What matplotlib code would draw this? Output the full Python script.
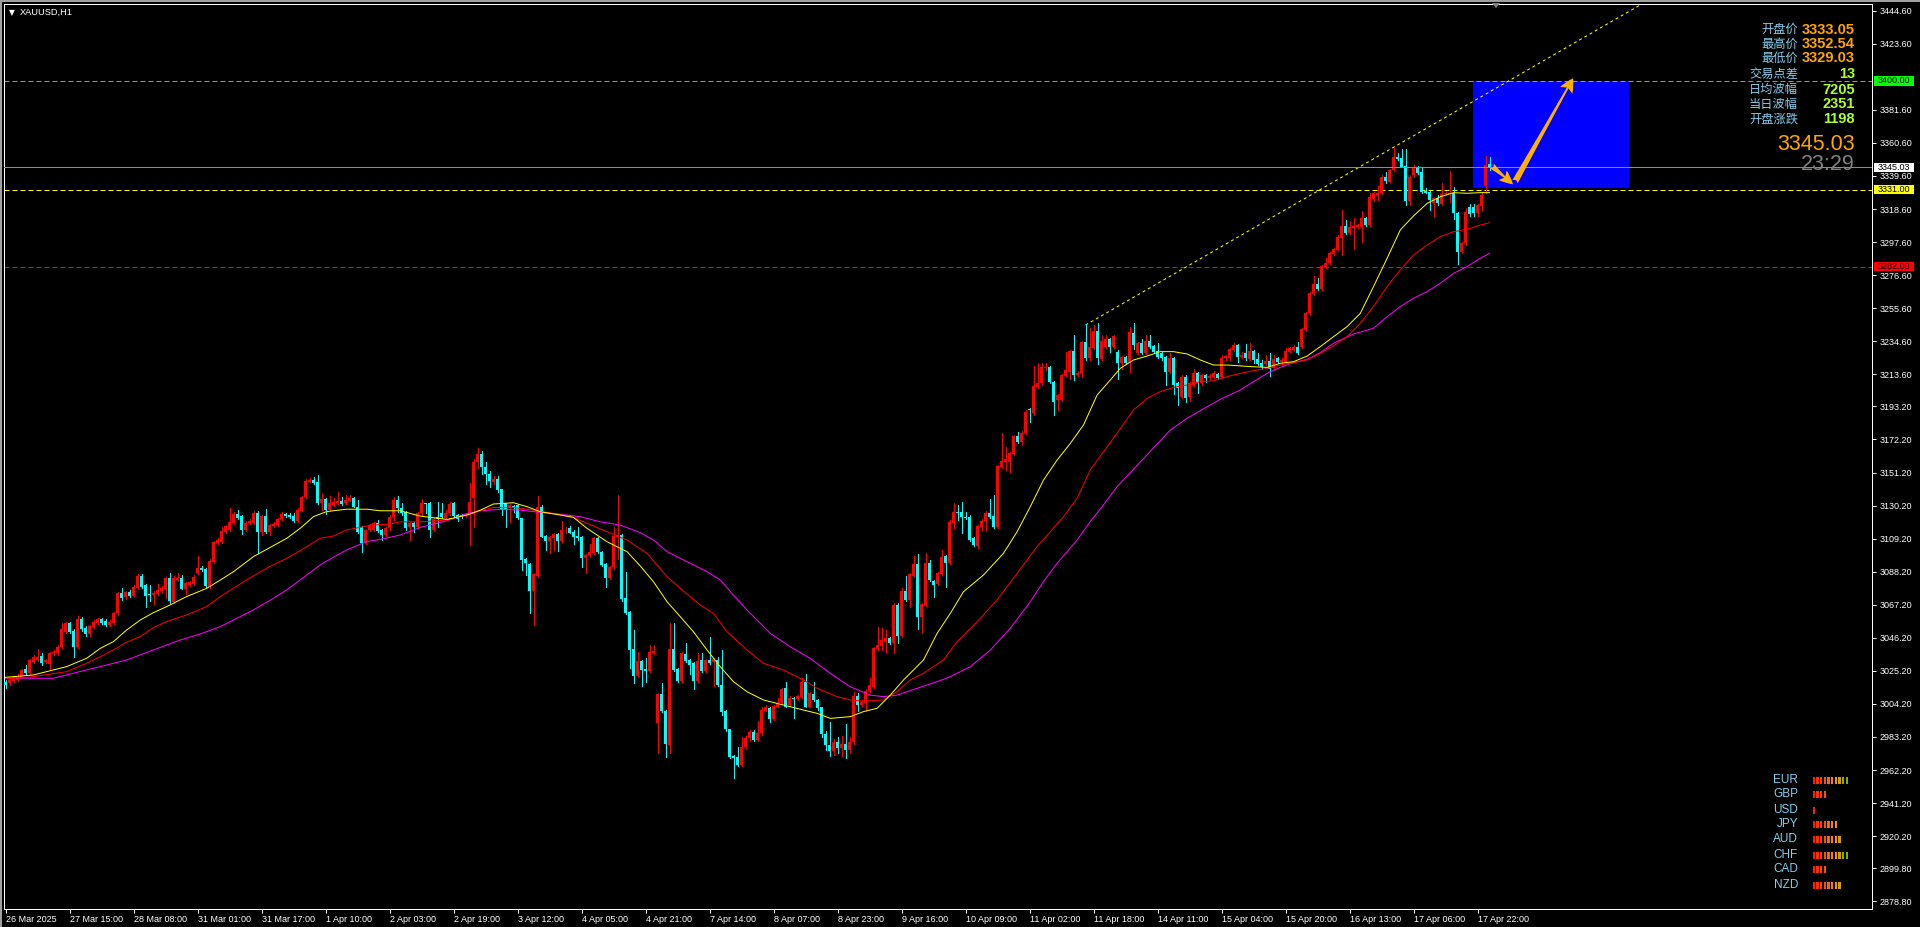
import matplotlib
matplotlib.use("Agg")
import matplotlib.pyplot as plt
import matplotlib.transforms as mtransforms
from matplotlib.patches import Rectangle, FancyArrowPatch, Polygon

plt.rcParams['font.family'] = ['Liberation Sans', 'DejaVu Sans']
CJK = ['Noto Sans CJK SC', 'DejaVu Sans']

# ---------------- data ----------------
symbol = 'XAUUSD,H1'

# hourly candles, bar 0 = 26 Mar 2025
opens = [
    3018.4, 3017.3, 3019.0, 3019.4, 3021.5, 3026.2, 3023.7, 3031.1, 3032.1, 3034.7,
    3031.1, 3029.6, 3036.4, 3036.4, 3040.2, 3050.1, 3055.4, 3050.8, 3040.6, 3058.2,
    3052.7, 3048.7, 3053.3, 3055.9, 3058.0, 3056.9, 3054.4, 3055.9, 3061.8, 3074.5,
    3071.9, 3075.5, 3073.0, 3078.1, 3085.7, 3079.8, 3073.9, 3073.4, 3074.1, 3076.2,
    3077.5, 3084.0, 3069.2, 3083.0, 3084.4, 3077.0, 3079.8, 3080.4, 3087.2, 3090.8,
    3089.9, 3078.7, 3094.6, 3106.3, 3107.3, 3113.7, 3114.7, 3119.4, 3124.9, 3123.6,
    3114.7, 3119.4, 3119.4, 3125.3, 3113.7, 3123.6, 3113.7, 3117.3, 3117.9, 3121.5,
    3124.9, 3124.3, 3123.6, 3120.4, 3127.0, 3135.5, 3145.4, 3146.5, 3145.4, 3132.1,
    3134.2, 3127.4, 3130.6, 3131.7, 3133.4, 3131.7, 3133.4, 3134.8, 3129.5, 3116.8,
    3106.3, 3114.7, 3114.7, 3119.0, 3114.6, 3111.5, 3115.7, 3123.1, 3133.7, 3128.4,
    3126.3, 3116.3, 3118.9, 3116.8, 3125.2, 3131.6, 3131.6, 3114.6, 3123.1, 3125.7,
    3122.0, 3125.2, 3131.6, 3124.2, 3124.2, 3123.5, 3124.2, 3134.8, 3158.0, 3163.0,
    3155.0, 3150.0, 3145.4, 3147.0, 3140.5, 3131.6, 3128.4, 3129.9, 3130.5, 3122.0,
    3096.2, 3093.0, 3076.1, 3085.6, 3129.5, 3110.8, 3107.6, 3109.3, 3112.1, 3107.9,
    3115.7, 3116.1, 3113.6, 3110.8, 3110.4, 3097.1, 3098.8, 3100.2, 3109.8, 3100.9,
    3093.0, 3084.4, 3090.9, 3110.4, 3111.5, 3071.2, 3062.8, 3039.0, 3022.1, 3031.4,
    3026.1, 3025.3, 3036.7, 2992.2, 3010.4, 2999.9, 2978.0, 3039.0, 3026.3, 3018.9,
    3035.9, 3032.0, 3030.4, 3018.9, 3032.0, 3025.3, 3032.0, 3031.0, 3032.0, 3016.2,
    2999.6, 2988.0, 2971.1, 2970.6, 2965.3, 2977.0, 2982.3, 2986.5, 2981.2, 2985.5,
    3000.0, 3001.4, 2994.4, 3002.4, 3005.0, 3014.1, 3003.5, 3008.2, 3007.1, 3008.8,
    3018.3, 3002.4, 3010.5, 3006.7, 3002.0, 2985.0, 2978.0, 2974.0, 2980.0, 2976.0,
    2979.0, 2975.0, 2980.0, 3009.2, 3003.5, 3005.0, 3012.6, 3015.2, 3038.9, 3041.0,
    3043.7, 3045.9, 3042.7, 3067.0, 3047.3, 3076.1, 3070.2, 3085.5, 3093.1, 3059.6,
    3067.0, 3093.5, 3082.5, 3080.4, 3086.7, 3098.2, 3093.5, 3119.3, 3126.3, 3126.3,
    3123.1, 3123.1, 3109.8, 3104.5, 3116.8, 3120.6, 3125.3, 3123.6, 3116.8, 3154.9,
    3158.1, 3158.1, 3163.0, 3174.4, 3170.8, 3176.1, 3191.8, 3188.8, 3205.7, 3207.9,
    3217.4, 3218.4, 3208.9, 3197.3, 3197.3, 3212.5, 3215.3, 3228.4, 3213.2, 3214.2,
    3234.3, 3223.7, 3230.1, 3241.3, 3223.1, 3231.2, 3235.8, 3231.2, 3228.0, 3221.0,
    3224.8, 3220.6, 3240.0, 3227.3, 3233.3, 3227.3, 3234.9, 3231.6, 3228.4, 3226.9,
    3224.8, 3215.3, 3223.7, 3207.9, 3199.4, 3212.1, 3199.4, 3206.8, 3214.6, 3207.9,
    3213.2, 3211.0, 3212.1, 3213.6, 3211.7, 3223.7, 3223.7, 3229.0, 3232.2, 3224.8,
    3227.3, 3223.1, 3228.4, 3223.1, 3221.0, 3220.2, 3222.3, 3217.4, 3223.7, 3221.6,
    3221.6, 3228.0, 3229.0, 3230.7, 3231.2, 3241.7, 3252.3, 3264.6, 3271.0, 3267.6,
    3281.5, 3284.1, 3290.0, 3292.6, 3300.0, 3307.8, 3303.6, 3306.3, 3307.0, 3307.4,
    3312.7, 3308.4, 3324.8, 3327.5, 3328.6, 3339.2, 3336.0, 3343.4, 3351.9, 3350.8,
    3345.9, 3323.9, 3340.2, 3345.5, 3342.3, 3330.0, 3329.4, 3322.6, 3325.4, 3321.8,
    3328.1, 3328.1, 3329.0, 3316.3, 3291.5, 3296.8, 3320.1, 3320.1, 3316.3, 3320.5,
    3333.05, 3347.2,
]
highs = [
    3019.5, 3020.0, 3022.0, 3023.0, 3026.5, 3028.9, 3033.0, 3035.3, 3038.9, 3036.4,
    3033.0, 3037.0, 3038.5, 3041.5, 3055.8, 3056.0, 3056.5, 3051.5, 3060.1, 3059.2,
    3053.5, 3054.5, 3057.5, 3059.0, 3059.0, 3058.0, 3057.5, 3062.5, 3075.5, 3077.7,
    3076.0, 3076.6, 3079.5, 3086.5, 3086.8, 3080.5, 3079.8, 3076.0, 3080.4, 3079.0,
    3084.6, 3087.6, 3085.5, 3087.2, 3086.1, 3081.5, 3082.5, 3086.0, 3098.2, 3091.5,
    3090.5, 3096.0, 3108.0, 3109.5, 3116.8, 3118.0, 3128.5, 3126.0, 3127.4, 3124.5,
    3120.5, 3121.5, 3126.8, 3126.5, 3124.5, 3128.1, 3118.5, 3119.5, 3122.5, 3126.0,
    3125.7, 3125.7, 3125.7, 3128.5, 3136.5, 3147.0, 3147.6, 3148.6, 3149.7, 3138.0,
    3135.0, 3136.3, 3134.8, 3139.1, 3135.9, 3137.0, 3137.0, 3135.9, 3133.8, 3117.5,
    3115.5, 3118.5, 3119.8, 3121.1, 3115.5, 3116.5, 3124.0, 3135.8, 3136.2, 3132.0,
    3127.0, 3119.5, 3119.5, 3126.3, 3134.1, 3131.8, 3132.2, 3122.0, 3132.6, 3131.6,
    3127.3, 3132.6, 3132.2, 3125.0, 3125.0, 3125.5, 3144.3, 3160.0, 3167.0, 3165.0,
    3158.0, 3152.0, 3149.0, 3149.0, 3141.0, 3132.0, 3131.0, 3130.5, 3131.5, 3122.5,
    3097.0, 3094.0, 3087.5, 3136.2, 3130.5, 3111.5, 3110.8, 3113.0, 3113.0, 3120.6,
    3116.8, 3117.0, 3114.5, 3116.8, 3111.0, 3099.5, 3105.7, 3110.0, 3110.5, 3101.5,
    3093.5, 3091.5, 3116.3, 3136.9, 3112.0, 3088.2, 3063.5, 3051.1, 3037.3, 3032.0,
    3033.1, 3041.6, 3041.6, 3011.0, 3017.2, 3000.5, 3055.3, 3055.8, 3027.0, 3037.0,
    3043.1, 3032.5, 3031.0, 3036.3, 3036.3, 3033.0, 3046.4, 3033.5, 3034.2, 3038.4,
    3000.5, 2988.5, 2971.5, 2977.0, 2982.9, 2983.5, 2987.5, 2987.5, 2993.5, 3002.0,
    3003.5, 3002.0, 3003.5, 3007.7, 3014.5, 3018.3, 3009.0, 3008.8, 3010.0, 3020.4,
    3023.2, 3011.5, 3018.3, 3007.5, 3002.5, 2987.0, 2992.9, 2982.0, 2983.0, 2984.0,
    2991.4, 2983.0, 3012.0, 3011.3, 3006.5, 3013.5, 3020.4, 3040.5, 3052.8, 3052.2,
    3051.2, 3047.0, 3068.0, 3068.0, 3078.1, 3085.5, 3087.5, 3098.2, 3099.4, 3068.5,
    3099.9, 3095.6, 3083.0, 3088.0, 3102.0, 3099.0, 3121.0, 3132.0, 3130.6, 3132.7,
    3126.3, 3124.0, 3110.5, 3118.0, 3121.5, 3126.5, 3134.2, 3136.9, 3156.0, 3176.1,
    3167.6, 3164.5, 3175.0, 3177.2, 3177.5, 3191.0, 3192.0, 3218.9, 3220.6, 3220.6,
    3220.6, 3218.9, 3209.5, 3201.0, 3213.8, 3228.0, 3229.0, 3238.6, 3215.5, 3235.0,
    3245.6, 3242.8, 3244.9, 3246.0, 3238.6, 3238.6, 3236.5, 3238.5, 3228.8, 3225.5,
    3225.5, 3243.9, 3246.0, 3234.0, 3235.8, 3238.6, 3238.6, 3232.5, 3233.3, 3227.5,
    3225.5, 3226.9, 3224.5, 3208.5, 3213.0, 3213.0, 3209.0, 3216.8, 3215.3, 3214.0,
    3214.0, 3213.5, 3215.9, 3214.5, 3225.9, 3226.0, 3230.2, 3233.3, 3233.0, 3228.0,
    3232.9, 3233.3, 3229.0, 3227.3, 3222.7, 3225.9, 3227.3, 3225.9, 3224.5, 3223.7,
    3230.1, 3231.0, 3232.2, 3234.3, 3243.0, 3253.5, 3266.0, 3276.0, 3274.6, 3283.2,
    3287.3, 3291.5, 3293.8, 3302.0, 3318.0, 3311.6, 3311.2, 3312.7, 3309.2, 3317.6,
    3313.5, 3328.6, 3329.5, 3333.2, 3340.0, 3342.3, 3344.3, 3357.2, 3354.0, 3356.5,
    3356.5, 3340.0, 3346.3, 3345.9, 3345.5, 3331.7, 3330.0, 3326.0, 3327.5, 3334.9,
    3329.8, 3343.0, 3332.8, 3317.0, 3297.5, 3319.0, 3321.8, 3321.8, 3322.0, 3329.6,
    3352.54, 3351.5,
]
lows = [
    3014.5, 3016.0, 3018.0, 3018.5, 3021.0, 3023.0, 3023.0, 3030.5, 3031.5, 3029.0,
    3030.0, 3026.0, 3035.5, 3035.5, 3039.5, 3049.0, 3049.0, 3033.8, 3039.5, 3050.5,
    3047.5, 3047.5, 3052.5, 3055.0, 3055.0, 3053.5, 3053.5, 3055.0, 3061.0, 3070.2,
    3071.0, 3072.4, 3072.5, 3077.5, 3078.0, 3066.0, 3069.8, 3067.7, 3073.5, 3075.5,
    3071.3, 3068.1, 3068.5, 3082.5, 3077.0, 3074.1, 3079.0, 3080.0, 3086.5, 3088.5,
    3077.7, 3078.0, 3094.0, 3105.5, 3106.5, 3113.0, 3114.0, 3118.5, 3121.5, 3112.0,
    3114.0, 3118.5, 3118.5, 3099.9, 3111.5, 3113.0, 3111.5, 3116.5, 3117.0, 3121.0,
    3123.0, 3122.0, 3119.8, 3119.8, 3126.5, 3135.0, 3145.0, 3144.0, 3131.5, 3127.4,
    3124.9, 3127.0, 3130.0, 3131.0, 3130.5, 3131.0, 3133.0, 3129.0, 3113.0, 3101.0,
    3105.5, 3114.0, 3114.0, 3113.5, 3108.5, 3111.0, 3115.0, 3121.0, 3126.3, 3124.2,
    3114.6, 3108.3, 3113.6, 3116.0, 3124.5, 3125.2, 3110.4, 3114.0, 3116.8, 3122.5,
    3121.5, 3124.5, 3123.0, 3120.6, 3122.5, 3123.0, 3105.1, 3116.8, 3154.0, 3150.0,
    3144.0, 3142.2, 3144.0, 3139.0, 3124.2, 3116.8, 3120.0, 3126.3, 3121.5, 3089.2,
    3086.0, 3062.1, 3054.3, 3085.0, 3110.0, 3101.9, 3100.2, 3101.9, 3101.5, 3107.0,
    3113.0, 3112.5, 3105.7, 3108.5, 3091.3, 3087.1, 3098.0, 3099.5, 3100.0, 3091.5,
    3078.6, 3083.5, 3090.0, 3096.0, 3069.7, 3061.5, 3026.8, 3017.2, 3021.5, 3015.5,
    3018.3, 3024.5, 3036.0, 2973.2, 2999.0, 2970.6, 2972.7, 3025.0, 3018.0, 3018.0,
    3031.0, 3023.2, 3013.4, 3018.0, 3024.5, 3024.5, 3029.5, 3015.5, 3015.5, 2997.1,
    2987.0, 2970.0, 2956.9, 2964.5, 2964.5, 2976.5, 2981.5, 2980.5, 2980.5, 2984.5,
    2999.5, 2992.9, 2994.0, 3002.0, 3004.5, 3002.0, 3003.0, 2995.0, 3006.5, 3008.0,
    3002.0, 3002.0, 3006.0, 3000.5, 2983.0, 2975.0, 2971.0, 2972.0, 2973.0, 2971.0,
    2970.0, 2973.0, 2979.0, 3000.0, 3003.0, 3000.0, 3012.0, 3014.5, 3038.4, 3038.4,
    3036.3, 3042.0, 3036.3, 3042.7, 3046.5, 3069.5, 3065.5, 3085.0, 3051.6, 3049.0,
    3066.5, 3082.0, 3071.9, 3079.5, 3086.0, 3078.7, 3093.0, 3115.7, 3121.0, 3113.0,
    3121.5, 3107.5, 3104.5, 3103.5, 3114.7, 3114.7, 3122.5, 3116.0, 3116.0, 3154.3,
    3152.8, 3151.7, 3162.5, 3170.0, 3168.7, 3175.5, 3183.5, 3188.0, 3205.0, 3207.0,
    3216.5, 3208.0, 3187.7, 3190.9, 3196.5, 3212.0, 3210.4, 3210.0, 3212.5, 3212.1,
    3223.0, 3223.0, 3229.5, 3220.1, 3222.5, 3230.5, 3228.0, 3230.5, 3210.4, 3216.7,
    3220.0, 3215.3, 3229.5, 3226.5, 3226.5, 3226.5, 3230.5, 3227.3, 3224.0, 3223.0,
    3206.8, 3214.5, 3201.1, 3194.1, 3198.3, 3196.2, 3196.8, 3206.0, 3201.5, 3206.8,
    3208.9, 3210.3, 3211.5, 3210.3, 3211.0, 3223.0, 3223.0, 3228.5, 3221.6, 3224.0,
    3223.0, 3222.5, 3220.6, 3219.5, 3216.8, 3219.5, 3212.5, 3216.8, 3220.6, 3221.0,
    3221.0, 3227.5, 3228.5, 3226.8, 3230.5, 3241.0, 3251.5, 3264.0, 3267.0, 3267.0,
    3281.0, 3283.5, 3289.5, 3292.0, 3289.4, 3302.5, 3303.0, 3293.0, 3306.5, 3297.9,
    3307.8, 3307.8, 3324.0, 3324.3, 3328.0, 3335.3, 3335.5, 3343.0, 3349.5, 3345.0,
    3321.1, 3321.1, 3339.2, 3341.0, 3329.0, 3328.6, 3318.0, 3313.3, 3321.2, 3321.0,
    3327.5, 3323.3, 3312.1, 3283.7, 3290.5, 3296.0, 3314.0, 3314.0, 3314.0, 3318.0,
    3329.03, 3343.4,
]
closes = [
    3016.3, 3019.4, 3021.1, 3021.5, 3025.8, 3023.7, 3032.1, 3034.3, 3034.3, 3030.0,
    3032.1, 3036.4, 3037.4, 3040.6, 3051.6, 3055.4, 3050.1, 3040.2, 3058.2, 3051.6,
    3048.7, 3053.7, 3056.5, 3058.0, 3055.9, 3054.4, 3056.5, 3061.8, 3074.5, 3071.7,
    3075.1, 3072.8, 3078.7, 3085.5, 3078.7, 3073.0, 3073.2, 3074.9, 3076.6, 3078.1,
    3084.4, 3069.8, 3084.4, 3084.4, 3077.5, 3080.8, 3081.5, 3085.1, 3090.8, 3089.3,
    3079.1, 3095.2, 3107.1, 3108.4, 3114.3, 3117.3, 3120.0, 3124.9, 3122.1, 3114.7,
    3119.4, 3120.4, 3125.3, 3113.7, 3123.6, 3113.7, 3117.9, 3118.5, 3121.5, 3124.9,
    3123.6, 3122.8, 3120.4, 3127.4, 3135.5, 3145.9, 3146.5, 3144.4, 3132.1, 3134.2,
    3127.4, 3131.7, 3132.7, 3133.4, 3131.2, 3133.8, 3134.8, 3129.5, 3113.7, 3106.3,
    3114.7, 3117.9, 3119.0, 3114.3, 3111.5, 3115.7, 3123.1, 3133.7, 3128.4, 3125.2,
    3115.7, 3118.9, 3116.8, 3125.2, 3131.6, 3131.2, 3114.6, 3121.4, 3121.4, 3123.1,
    3125.2, 3131.2, 3123.5, 3121.4, 3123.1, 3124.6, 3132.6, 3158.0, 3163.0, 3155.0,
    3150.0, 3145.5, 3147.0, 3140.0, 3127.3, 3127.8, 3130.5, 3128.4, 3122.0, 3095.6,
    3093.5, 3076.1, 3086.7, 3129.5, 3110.4, 3107.6, 3110.0, 3112.1, 3107.9, 3114.6,
    3116.1, 3113.0, 3110.0, 3109.3, 3097.1, 3098.8, 3100.9, 3109.3, 3100.9, 3092.4,
    3084.4, 3090.9, 3110.8, 3111.5, 3070.6, 3062.1, 3038.4, 3022.1, 3031.4, 3025.7,
    3025.3, 3037.3, 3037.8, 3010.4, 2999.9, 2978.7, 3038.8, 3025.7, 3018.9, 3036.3,
    3031.6, 3028.9, 3018.9, 3031.4, 3025.3, 3032.0, 3030.4, 3032.5, 3016.2, 2999.2,
    2988.0, 2970.6, 2970.0, 2965.3, 2977.0, 2982.7, 2986.5, 2981.2, 2985.4, 3000.3,
    3002.0, 2994.4, 3002.9, 3004.6, 3013.5, 3002.4, 3008.2, 3007.1, 3009.2, 3018.3,
    3002.4, 3010.9, 3006.7, 3001.4, 2985.0, 2978.0, 2974.0, 2980.0, 2976.0, 2979.0,
    2975.0, 2980.0, 3009.2, 3003.5, 3005.6, 3012.6, 3016.2, 3039.5, 3041.6, 3044.8,
    3045.9, 3042.7, 3067.0, 3047.3, 3076.1, 3070.2, 3086.7, 3093.1, 3059.6, 3067.7,
    3093.5, 3082.9, 3079.7, 3087.1, 3097.7, 3093.5, 3120.0, 3126.3, 3125.7, 3122.7,
    3122.1, 3108.3, 3105.1, 3117.2, 3120.6, 3125.7, 3123.1, 3116.8, 3155.3, 3158.7,
    3159.6, 3163.8, 3174.4, 3170.8, 3176.5, 3189.9, 3190.9, 3206.2, 3208.3, 3218.4,
    3218.4, 3208.9, 3196.2, 3200.4, 3213.2, 3216.3, 3228.4, 3213.2, 3214.6, 3234.3,
    3223.7, 3231.2, 3241.3, 3223.7, 3235.0, 3235.8, 3231.2, 3237.9, 3221.0, 3224.8,
    3220.6, 3240.7, 3232.2, 3233.3, 3227.3, 3234.9, 3231.2, 3228.0, 3224.8, 3223.7,
    3215.3, 3223.7, 3206.8, 3204.7, 3212.1, 3198.3, 3208.3, 3214.2, 3207.9, 3213.2,
    3211.0, 3212.7, 3214.2, 3211.0, 3223.7, 3225.2, 3229.5, 3232.2, 3224.4, 3225.9,
    3223.7, 3228.4, 3222.7, 3220.2, 3218.0, 3222.3, 3216.8, 3223.1, 3221.6, 3222.7,
    3228.6, 3230.1, 3231.2, 3227.3, 3242.2, 3252.7, 3265.0, 3271.0, 3267.6, 3282.4,
    3284.5, 3290.9, 3293.0, 3301.0, 3307.8, 3303.2, 3307.4, 3307.8, 3308.4, 3312.7,
    3308.4, 3326.4, 3328.6, 3328.6, 3339.2, 3336.4, 3343.4, 3351.9, 3350.2, 3345.5,
    3323.9, 3339.2, 3345.5, 3341.7, 3329.6, 3329.0, 3324.3, 3325.4, 3322.2, 3328.1,
    3329.0, 3329.0, 3315.9, 3291.5, 3296.8, 3316.9, 3315.4, 3316.3, 3321.2, 3327.5,
    3346.6, 3345.03,
]

# moving averages (bar position, price)
ma_fast_x = [0, 7, 15.3, 20.3, 23.7, 27, 30.3, 33.7, 37, 40.3, 45.3, 50.3, 53.7, 57, 62, 65.3,
             70.3, 73.7, 77, 80.3, 85.3, 90.3, 93.7, 98.7, 103.7, 110.4, 115.4, 118.7, 122,
             127, 130.4, 133.7, 138.7, 142, 145.4, 150.4, 155.4, 158.7, 162, 165.4, 168.7,
             172, 175.4, 178.7, 182, 185.4, 189.5, 194.5, 199.5, 202.9, 206.2, 211.2, 214.5,
             217.9, 221.2, 224.5, 229.5, 232.9, 236.2, 239.5, 244.5, 249.5, 252.9, 256.2,
             259.5, 262.9, 266.2, 269.5, 272.9, 276.2, 278.7, 282, 285.4, 288.7, 292, 295.4,
             298.7, 302, 305.4, 312, 315.4, 318.7, 322, 325.4, 328.7, 332, 335.4, 338.7, 342,
             345.4, 348.7, 352, 355.4, 358.7, 362, 365.4, 368.7, 371]
ma_fast_y = [3021.1, 3022.6, 3027.9, 3033.2, 3039.5, 3043.8, 3051.2, 3057.5, 3062.2, 3066.0,
             3072.4, 3077.6, 3082.9, 3088.2, 3097.8, 3102.4, 3109.4, 3115.8, 3123.2, 3126.4,
             3127.9, 3127.9, 3126.9, 3126.9, 3123.5, 3121.4, 3124.2, 3127.3, 3131.2, 3132.0,
             3129.5, 3126.3, 3124.2, 3122.7, 3115.7, 3107.2, 3100.9, 3091.8, 3081.8, 3069.1,
             3059.6, 3050.0, 3038.4, 3027.8, 3018.3, 3011.9, 3006.7, 3003.5, 3000.3, 2998.2,
             2995.0, 2996.1, 2999.3, 3001.4, 3009.8, 3019.4, 3032.1, 3049.0, 3061.7, 3075.5,
             3086.1, 3099.9, 3113.6, 3129.5, 3146.4, 3159.1, 3169.7, 3181.4, 3200.4, 3210.0,
             3217.4, 3222.7, 3225.2, 3228.0, 3228.0, 3226.5, 3222.7, 3219.5, 3219.5, 3218.4,
             3218.0, 3220.6, 3221.6, 3225.2, 3231.2, 3237.5, 3243.9, 3252.3, 3269.3, 3287.3,
             3305.3, 3314.2, 3322.2, 3326.4, 3329.0, 3328.6, 3329.0, 3329.0]

ma_mid_x = [0, 7, 15.3, 20.3, 23.7, 27, 30.3, 33.7, 37, 40.3, 45.3, 50.3, 53.7, 57, 60.3, 65.3,
            70.3, 73.7, 78.7, 82, 85.3, 88.7, 92, 96.2, 98.7, 103.7, 110.4, 115.4, 118.7, 122,
            127, 132, 137, 142, 145.4, 150.4, 155.4, 160.4, 165.4, 168.7, 173.7, 177, 180.4,
            185.4, 189.5, 194.5, 199.5, 202.9, 207.9, 211.2, 214.5, 219.5, 222.9, 226.2,
            229.5, 234.5, 237.9, 242.9, 247.9, 252.9, 257.9, 261.2, 264.5, 267.9, 271.2,
            274.5, 277.9, 282, 285.4, 288.7, 292, 295.4, 298.7, 302, 305.4, 308.7, 312,
            315.4, 318.7, 322, 325.4, 328.7, 332, 335.4, 338.7, 342, 345.4, 348.7, 352,
            355.4, 358.7, 362, 365.4, 368.7, 371]
ma_mid_y = [3020.1, 3021.5, 3024.7, 3030.0, 3034.2, 3038.5, 3043.4, 3047.0, 3052.7, 3056.5,
            3060.7, 3066.0, 3072.4, 3077.7, 3083.0, 3090.4, 3096.7, 3101.6, 3109.4, 3110.9,
            3114.7, 3116.4, 3117.9, 3118.4, 3119.9, 3119.9, 3121.0, 3124.2, 3126.9, 3129.0,
            3129.0, 3127.3, 3125.2, 3122.7, 3118.9, 3113.6, 3108.3, 3099.8, 3085.0, 3077.6,
            3067.0, 3061.7, 3050.0, 3038.4, 3030.0, 3025.7, 3019.4, 3014.1, 3008.8, 3006.7,
            3006.0, 3006.7, 3012.0, 3019.4, 3023.6, 3032.1, 3043.7, 3056.4, 3070.2, 3087.1,
            3104.1, 3113.6, 3123.1, 3134.8, 3152.8, 3164.4, 3176.1, 3190.9, 3198.3, 3202.6,
            3205.3, 3206.8, 3208.9, 3209.5, 3212.1, 3214.2, 3215.9, 3217.4, 3219.5, 3221.0,
            3222.7, 3226.9, 3231.6, 3237.5, 3246.0, 3256.6, 3269.3, 3279.9, 3289.4, 3295.7,
            3301.0, 3304.2, 3305.7, 3308.4, 3309.9]

ma_slow_x = [0, 7, 12, 15.3, 20.3, 23.7, 30.3, 37, 43.7, 48.7, 53.7, 57, 62, 67, 70.3, 73.7,
             78.7, 82, 85.3, 90.3, 93.7, 98.7, 103.7, 110.4, 115.4, 118.7, 123.7, 128.7, 133.7,
             140.4, 143.7, 148.7, 153.7, 158.7, 162, 165.4, 170.4, 175.4, 178.7, 182, 185.4,
             191.2, 196.2, 201.2, 206.2, 211.2, 216.2, 219.5, 222.9, 227.9, 232.9, 236.2,
             241.2, 246.2, 251.2, 256.2, 259.5, 262.9, 267.9, 271.2, 274.5, 277.9, 281.2,
             291.2, 295.4, 300.4, 303.7, 308.7, 312, 315.4, 318.7, 322, 325.4, 328.7, 332,
             337, 342, 345.4, 348.7, 352, 355.4, 358.7, 362, 365.4, 368.7, 371]
ma_slow_y = [3020.5, 3020.5, 3020.5, 3022.6, 3025.8, 3027.9, 3032.1, 3038.5, 3044.8, 3048.6,
             3053.3, 3057.5, 3063.9, 3071.3, 3076.6, 3083.0, 3092.5, 3097.4, 3102.0, 3107.3,
             3108.7, 3111.5, 3116.3, 3120.6, 3125.2, 3126.9, 3127.8, 3127.3, 3125.9, 3124.2,
             3123.1, 3119.9, 3117.8, 3113.0, 3108.3, 3100.9, 3094.5, 3088.2, 3082.9, 3073.3,
             3063.8, 3049.0, 3040.5, 3033.1, 3023.6, 3015.1, 3009.8, 3008.8, 3009.8, 3014.1,
             3018.3, 3021.5, 3027.8, 3038.4, 3052.2, 3069.1, 3081.9, 3093.5, 3108.3, 3120.0,
             3130.6, 3142.2, 3151.1, 3178.2, 3185.6, 3193.0, 3197.7, 3203.6, 3208.9, 3214.2,
             3218.0, 3221.0, 3223.1, 3227.3, 3233.3, 3239.2, 3242.8, 3250.2, 3256.6, 3261.9,
             3266.1, 3271.4, 3277.7, 3282.0, 3287.3, 3290.4]

# objects drawn on the chart
trend_x = [270, 354.5]
trend_y = [3244.9, 3368.8]
level_green = 3400.00
level_yellow = 3331.00
level_red = 3282.00
bid = 3345.03
box_x = [366.9, 405.8]
box_y = [3332.1, 3400.0]
arrow1 = [(371.6, 3345.9), (376.9, 3334.3)]
arrow2 = [(377.4, 3336.0), (391.9, 3401.7)]

price_ticks = [3444.60, 3423.60, 3381.60, 3360.60, 3339.60, 3318.60, 3297.60, 3276.60,
               3255.60, 3234.60, 3213.60, 3193.20, 3172.20, 3151.20, 3130.20, 3109.20,
               3088.20, 3067.20, 3046.20, 3025.20, 3004.20, 2983.20, 2962.20, 2941.20,
               2920.20, 2899.80, 2878.80]
time_labels = ['26 Mar 2025', '27 Mar 15:00', '28 Mar 08:00', '31 Mar 01:00', '31 Mar 17:00',
               '1 Apr 10:00', '2 Apr 03:00', '2 Apr 19:00', '3 Apr 12:00', '4 Apr 05:00',
               '4 Apr 21:00', '7 Apr 14:00', '8 Apr 07:00', '8 Apr 23:00', '9 Apr 16:00',
               '10 Apr 09:00', '11 Apr 02:00', '11 Apr 18:00', '14 Apr 11:00', '15 Apr 04:00',
               '15 Apr 20:00', '16 Apr 13:00', '17 Apr 06:00', '17 Apr 22:00']
bars_per_label = 16

info_names = ['开盘价', '最高价', '最低价', '交易点差', '日均波幅', '当日波幅', '开盘涨跌']
info_values = ['3333.05', '3352.54', '3329.03', '13', '7205', '2351', '1198']
countdown = '23:29'

currencies = ['EUR', 'GBP', 'USD', 'JPY', 'AUD', 'CHF', 'CAD', 'NZD']
strength = [10, 4, 1, 7, 8, 10, 4, 8]

# ---------------- layout ----------------
W, H = 1920, 927
fig = plt.figure(figsize=(W / 100, H / 100), dpi=100, facecolor='black')

L, R, T, B = 4, 1872, 4, 909
ax = fig.add_axes([L / W, 1 - B / H, (R - L) / W, (B - T) / H], facecolor='black')
ax.set_xlim((L - 5.5) / 4, (R - 5.5) / 4)
ax.set_ylim(2873.9, 3448.86)

UP, DOWN = '#FF0000', '#00FFFF'
PX = 0.72  # one pixel in points

# blue target box
ax.add_patch(Rectangle((box_x[0], box_y[0]), box_x[1] - box_x[0], box_y[1] - box_y[0],
                       facecolor='#0000FF', edgecolor='none', zorder=1))

# candles
xs = list(range(len(opens)))
cols = [UP if c >= o else DOWN for o, c in zip(opens, closes)]
ax.vlines(xs, lows, highs, colors=cols, linewidth=PX, zorder=3, antialiased=False)
bottoms = [min(o, c) for o, c in zip(opens, closes)]
heights = [max(abs(c - o), 0.5) for o, c in zip(opens, closes)]
ax.bar(xs, heights, bottom=bottoms, width=0.75, color=cols, linewidth=0,
       zorder=3, antialiased=False)

# moving averages
ax.plot(ma_slow_x, ma_slow_y, color='#FF00FF', lw=PX, zorder=4)
ax.plot(ma_mid_x, ma_mid_y, color='#FF0000', lw=PX, zorder=4)
ax.plot(ma_fast_x, ma_fast_y, color='#FFFF00', lw=PX, zorder=4)

# horizontal levels
dash = (0, (5, 3))
ax.axhline(level_green, color='#00FF00', lw=PX, ls=dash, zorder=2)
ax.axhline(level_yellow, color='#FFFF00', lw=PX, ls=dash, zorder=2)
ax.axhline(level_red, color='#FF0000', lw=PX, ls=dash, zorder=2)
ax.axhline(bid, color='#8C8C8C', lw=PX, zorder=5)

# trend line (ray to the right)
slope = (trend_y[1] - trend_y[0]) / (trend_x[1] - trend_x[0])
ray_end = 430
ax.plot([trend_x[0], ray_end], [trend_y[0], trend_y[0] + slope * (ray_end - trend_x[0])],
        color='#FFFF00', lw=PX, ls=(0, (3, 3)), zorder=2)

# arrows
for (p0, p1), hw in ((arrow1, 9), (arrow2, 10)):
    ax.add_patch(FancyArrowPatch(p0, p1, arrowstyle=f'fancy,head_length=1.0,head_width={hw/10:.1f},tail_width=0.45',
                                 mutation_scale=10, color='#FFB000', lw=0, zorder=6,
                                 shrinkA=0, shrinkB=0))

# axes frame and ticks
for s in ax.spines.values():
    s.set_color('white')
    s.set_linewidth(PX)
ax.yaxis.tick_right()
ax.set_yticks(price_ticks)
ax.set_yticklabels([f'{v:.2f}' for v in price_ticks])
ax.set_xticks([k * bars_per_label for k in range(len(time_labels))])
ax.set_xticklabels(time_labels)
for lbl in ax.get_xticklabels():
    lbl.set_horizontalalignment('left')
ax.tick_params(axis='y', colors='white', length=3, width=PX, labelsize=6.5, pad=2.5)
ax.tick_params(axis='x', colors='white', length=3, width=PX, labelsize=6.5, pad=1.5)

# price tags on the right scale
tag = mtransforms.blended_transform_factory(fig.transFigure, ax.transData)
for price, bg in ((level_green, '#00FF00'), (bid, '#FFFFFF'),
                  (level_yellow, '#FFFF00'), (level_red, '#FF0000')):
    ax.add_patch(Rectangle((1874 / W, price - 3.0), 40 / W, 6.0, transform=tag,
                           facecolor=bg, edgecolor='none', clip_on=False, zorder=7))
    ax.text(1878 / W, price, f'{price:.2f}', transform=tag, fontsize=6.5, color='black',
            va='center', ha='left', clip_on=False, zorder=8)

# window border
fig.add_artist(Rectangle((0, 0), 2 / W, 1, transform=fig.transFigure, facecolor='#A0A0A0',
                         edgecolor='none'))
fig.add_artist(Rectangle((0, 1 - 2 / H), 1, 2 / H, transform=fig.transFigure,
                         facecolor='#A0A0A0', edgecolor='none'))

def fp(x, y):
    return x / W, 1 - y / H

# title
fig.text(*fp(9, 12.7), '▼', color='white', fontsize=5.5, va='center', ha='left',
         family=['DejaVu Sans'])
fig.text(*fp(20, 12.7), symbol, color='white', fontsize=6.7, va='center', ha='left')

# chart-shift marker
fig.add_artist(Polygon([fp(1492, 3), fp(1500, 3), fp(1496, 8)], closed=True,
                       transform=fig.transFigure, facecolor='#808080', edgecolor='none'))

# info panel
rows_y = [29.5, 44, 58.5, 74, 89.5, 104.5, 119]
for k, (name, val, yy) in enumerate(zip(info_names, info_values, rows_y)):
    fig.text(*fp(1798, yy), name, color='#87CEEB', fontsize=8.8, ha='right', va='center',
             family=CJK)
    fig.text(*fp(1855, yy), val, color='#FFA500' if k < 3 else '#ADFF2F', fontsize=10.5,
             fontweight='bold', ha='right', va='center')

fig.text(*fp(1855, 145), f'{bid:.2f}', color='#FFA500', fontsize=15.5, ha='right', va='center')
fig.text(*fp(1855, 165), countdown, color='#808080', fontsize=15.5, ha='right', va='center')

# currency strength meter
palette = ['#FF1E00', '#FF2D00', '#FF3C00', '#FF4E00', '#FF6400', '#FF7D00', '#F09600',
           '#D2A000', '#A0A500', '#78B400', '#50C000']
cur_y = [780, 794.3, 810, 824.3, 839.3, 855, 869.3, 885]
for name, n, yy in zip(currencies, strength, cur_y):
    fig.text(*fp(1798, yy), name, color='#87CEEB', fontsize=8.5, ha='right', va='center')
    for j in range(n):
        x0, y0 = fp(1812.7 + 3.67 * j, yy + 3.5)
        fig.add_artist(Rectangle((x0, y0), 2.4 / W, 7 / H, transform=fig.transFigure,
                                 facecolor=palette[j], edgecolor='none'))

fig.savefig('out.png', dpi=100, facecolor='black')
